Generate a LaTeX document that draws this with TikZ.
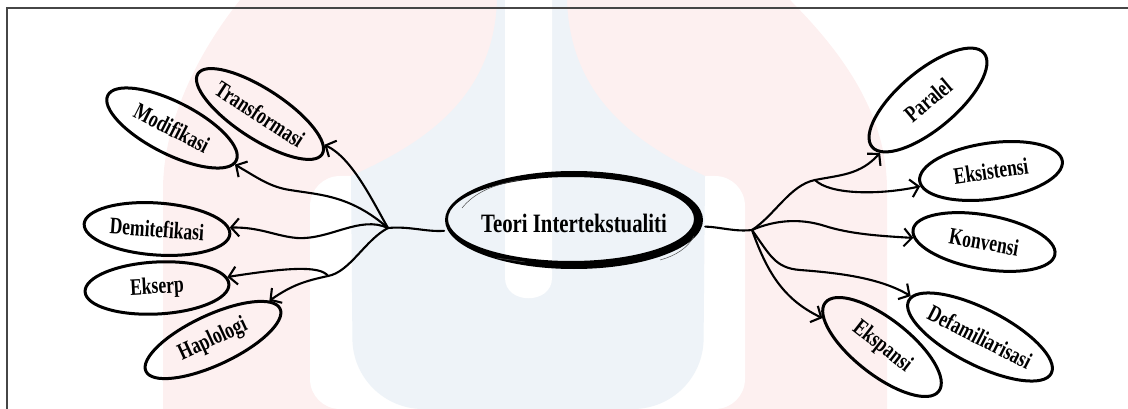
\documentclass[tikz,border=0pt]{standalone}
\usepackage{fontspec}
\setmainfont{Liberation Serif}
\usetikzlibrary{arrows.meta,shapes.geometric}
\definecolor{wpink}{RGB}{253,240,240}
\definecolor{wblue}{RGB}{238,243,248}
\definecolor{framegray}{RGB}{70,70,70}
\newcommand{\sqz}[1]{\scalebox{0.78}[1.05]{#1}}
\newcommand{\sqzc}[1]{\scalebox{0.8}[1.02]{#1}}
\begin{document}
\begin{tikzpicture}[x=1pt,y=-1pt,
  sat/.style={ellipse, draw, line width=3pt, inner sep=0pt,
    font=\fontsize{22.5}{24}\selectfont\bfseries},
  line/.style={line width=2.1pt, line cap=round},
  arr/.style={line, -{Straight Barb[length=8pt,width=18pt]}}]
\useasboundingbox (0,0) rectangle (1128,409);
% watermark
\fill[wpink] (240,0) -- (790,0) .. controls (850,60) and (887,120) .. (887,190)
  -- (887,409) -- (163,409) -- (163,190) .. controls (163,120) and (200,50) .. (240,0) -- cycle;
\fill[white, rounded corners=30pt] (310,409) -- (310,176) -- (745,176) -- (745,409) -- cycle;
\fill[wblue] (497,0) -- (567,0) .. controls (570,100) and (640,145) .. (705,176)
  [rounded corners=70pt] -- (703,409) -- (353,409) [sharp corners] -- (351,176)
  .. controls (420,145) and (494,100) .. (497,0) -- cycle;
\fill[white] (505,0) -- (505,278) .. controls (505,305) and (552,305) .. (552,278) -- (552,0) -- cycle;
% frame
\draw[line width=1.2pt, framegray] (7,409) -- (7,8) -- (1128,8);
% centre
\node[ellipse, minimum width=258pt, minimum height=98pt, inner sep=0pt,
  font=\fontsize{26}{28}\selectfont\bfseries] (C) at (574,223) {\sqzc{Teori Intertekstualiti}};
\fill[black, even odd rule] (574,220) ellipse (129 and 49) (571,219) ellipse (123 and 42);
\draw[line width=0.5pt, black!70] (462,208) .. controls (475,192) and (495,184) .. (520,180);
\draw[line width=0.5pt, black!70] (660,260) .. controls (675,256) and (688,248) .. (694,236);
\draw[line width=0.5pt, black!70] (497,258) -- (525,262);
% satellites left
\node[sat, minimum width=144pt, minimum height=52pt, rotate=-27] (modif) at (172,128) {\sqz{Modifikasi}};
\node[sat, minimum width=148pt, minimum height=50pt, rotate=-33] (trans) at (260,114) {\sqz{Transformasi}};
\node[sat, minimum width=146pt, minimum height=52pt, rotate=-4] (demit) at (157,229) {\sqz{Demitefikasi}};
\node[sat, minimum width=144pt, minimum height=52pt, rotate=3] (ekserp) at (157,288) {\sqz{Ekserp}};
\node[sat, minimum width=148pt, minimum height=50pt, rotate=25] (haplo) at (213,340) {\sqz{Haplologi}};
% satellites right
\node[sat, minimum width=146pt, minimum height=58pt, rotate=40] (paralel) at (928,100) {\sqz{Paralel}};
\node[sat, minimum width=144pt, minimum height=56pt, rotate=8] (eksis) at (991,171) {\sqz{Eksistensi}};
\node[sat, minimum width=144pt, minimum height=54pt, rotate=-10] (konv) at (984,242) {\sqz{Konvensi}};
\node[sat, minimum width=160pt, minimum height=56pt, rotate=-27] (defam) at (980,337) {\sqz{Defamiliarisasi}};
\node[sat, minimum width=144pt, minimum height=56pt, rotate=-38] (ekspan) at (882,347) {\sqz{Ekspansi}};
% branch points
\coordinate (L) at (388,228);
\coordinate (LS) at (328,276);
\coordinate (R) at (752,230);
\coordinate (RP) at (815,180);
% left connectors
\draw[line] (C) .. controls (425,232) and (410,226) .. (L);
\draw[arr] (L) .. controls (372,200) and (352,158) .. (trans);
\draw[arr] (L) .. controls (350,195) and (320,195) .. (290,190) .. controls (270,187) and (258,178) .. (modif);
\draw[arr] (L) .. controls (360,215) and (330,240) .. (297,238) .. controls (275,236) and (260,227) .. (demit);
\draw[line] (L) .. controls (365,240) and (350,272) .. (LS);
\draw[arr] (LS) .. controls (305,281) and (292,285) .. (haplo);
\draw[arr] (LS) .. controls (320,265) and (285,268) .. (ekserp);
% right connectors
\draw[line] (C) .. controls (720,227) and (735,232) .. (R);
\draw[line] (R) .. controls (775,215) and (790,185) .. (RP);
\draw[arr] (RP) .. controls (840,175) and (860,175) .. (paralel);
\draw[arr] (RP) .. controls (830,195) and (880,195) .. (eksis);
\draw[arr] (R) .. controls (775,220) and (800,218) .. (825,226) .. controls (850,234) and (880,236) .. (konv);
\draw[arr] (R) .. controls (770,255) and (775,268) .. (800,270) .. controls (840,273) and (880,278) .. (defam);
\draw[arr] (R) .. controls (768,275) and (785,300) .. (ekspan);
\end{tikzpicture}
\end{document}
